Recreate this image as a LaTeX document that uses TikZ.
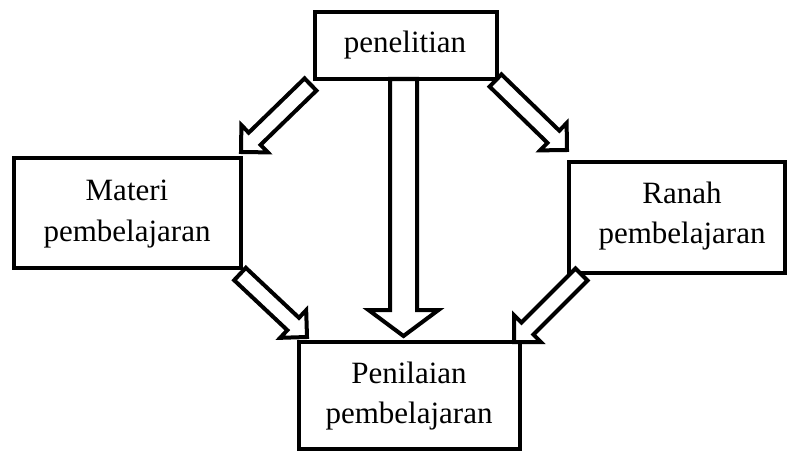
\documentclass[tikz,border=0pt]{standalone}
\usepackage{fontspec}
\setmainfont{Liberation Serif}
\usetikzlibrary{calc}
\tikzset{
  box/.style={draw, line width=4.5pt, inner sep=0pt, outer sep=0pt},
  lbl/.style={anchor=base, inner sep=0pt, font=\fontsize{31}{40}\selectfont},
  barrow/.style={draw, fill=white, line width=4pt, line join=miter}
}
\newcommand\blockarrow[5]{%
  \coordinate (#1#2hb) at ($(#2)!#5!(#1)$);
  \draw[barrow] ($(#1)!#3!90:(#2)$) -- ($(#1#2hb)!#3!90:(#2)$) -- ($(#1#2hb)!#4!90:(#2)$)
    -- (#2) -- ($(#1#2hb)!#4!-90:(#2)$) -- ($(#1#2hb)!#3!-90:(#2)$) -- ($(#1)!#3!-90:(#2)$) -- cycle;}
\begin{document}
\begin{tikzpicture}[x=1pt,y=-1pt]
\useasboundingbox (0,0) rectangle (787,452);
% boxes
\node[box, minimum width=182pt, minimum height=67pt] (pen) at (406,45.5) {};
\node[box, minimum width=227pt, minimum height=110pt] (mat) at (127.5,213) {};
\node[box, minimum width=216pt, minimum height=111pt] (ran) at (677,217.5) {};
\node[box, minimum width=221pt, minimum height=107pt] (pnl) at (409.5,395.5) {};
% texts
\node[lbl] (t1) at (405,53) {penelitian};
\node[lbl] (t2) at (127,200) {Materi};
\node[lbl] (t3) at (127,241) {pembelajaran};
\node[lbl] (t4) at (682,203) {Ranah};
\node[lbl] (t5) at (682,243) {pembelajaran};
\node[lbl] (t6) at (409,383) {Penilaian};
\node[lbl] (t7) at (409,423) {pembelajaran};
% arrow end points
\coordinate (vs) at (403.5,79);
\coordinate (ve) at (403.5,336);
\coordinate (tls) at (310.5,84.5);
\coordinate (tle) at (241,152);
\coordinate (trs) at (495.5,80.5);
\coordinate (tre) at (567,150);
\coordinate (bls) at (240,274);
\coordinate (ble) at (307,337);
\coordinate (brs) at (581.5,274.5);
\coordinate (bre) at (514,342);
% arrows
\blockarrow{vs}{ve}{13.5pt}{35pt}{26pt}
\blockarrow{tls}{tle}{8.5pt}{19pt}{19pt}
\blockarrow{trs}{tre}{8.5pt}{19pt}{19pt}
\blockarrow{bls}{ble}{8.5pt}{19pt}{19pt}
\blockarrow{brs}{bre}{8.5pt}{19pt}{19pt}
\end{tikzpicture}
\end{document}
